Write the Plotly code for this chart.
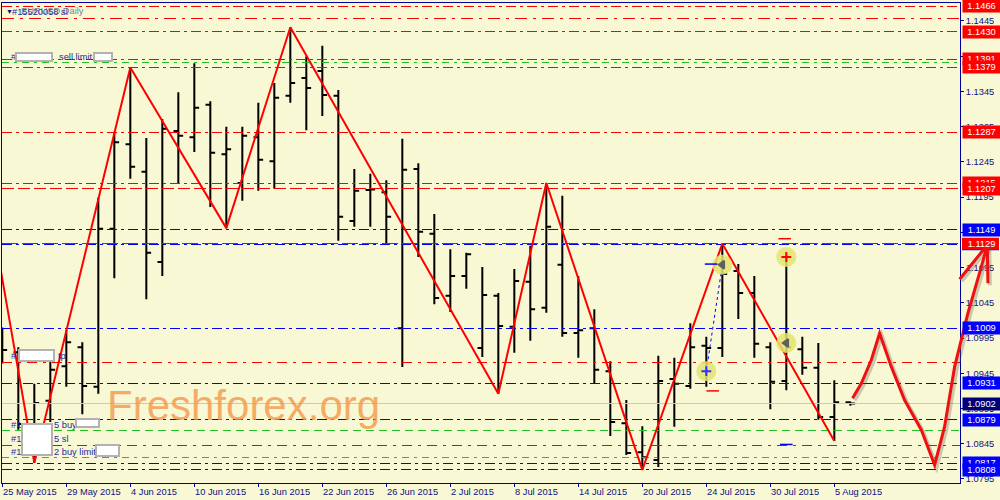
import plotly.graph_objects as go
import pandas as pd

# ---------------- data ----------------
dates = pd.bdate_range("2015-05-25", periods=54)
bar_idx = list(range(54))
opens = [1.1005, 1.0975, 1.0872, 1.0906, 1.0955, 1.0982, 1.0926, 1.1150, 1.1270, 1.1231,
         1.1103, 1.1289, 1.1280, 1.1326, 1.1256, 1.1215, 1.1280, 1.1246, 1.1339, 1.1364,
         1.1374, 1.1339, 1.1161, 1.1205, 1.1202, 1.1009, 1.1235, 1.1143, 1.1055, 1.1083,
         1.0981, 1.1055, 1.1011, 1.1075, 1.1038, 1.1099, 1.1002, 1.1009, 1.0948, 1.0874,
         1.0833, 1.0822, 1.0937, 1.0927, 1.0984, 1.0981, 1.1090, 1.1059, 1.0982, 1.0934,
         1.0979, 1.0953, 1.0883, 1.0904]
highs = [1.1010, 1.0982, 1.0930, 1.0961, 1.1006, 1.0989, 1.1194, 1.1286, 1.1379, 1.1279,
         1.1306, 1.1344, 1.1385, 1.1331, 1.1295, 1.1295, 1.1329, 1.1357, 1.1436, 1.1395,
         1.1410, 1.1347, 1.1235, 1.1228, 1.1219, 1.1278, 1.1243, 1.1171, 1.1121, 1.1116,
         1.1096, 1.1059, 1.1093, 1.1126, 1.1215, 1.1197, 1.1083, 1.1036, 1.0962, 1.0907,
         1.0870, 1.0970, 1.0967, 1.1016, 1.0997, 1.1129, 1.1100, 1.1083, 1.0989, 1.1114,
         1.0997, 1.0988, 1.0935, 1.0905]
lows = [1.0959, 1.0865, 1.0818, 1.0876, 1.0926, 1.0887, 1.0916, 1.1080, 1.1221, 1.1050,
        1.1083, 1.1214, 1.1259, 1.1181, 1.1151, 1.1190, 1.1204, 1.1207, 1.1329, 1.1290,
        1.1310, 1.1133, 1.1153, 1.1153, 1.1129, 1.0954, 1.1110, 1.1043, 1.1032, 1.1065,
        1.0968, 1.0916, 1.0974, 1.0991, 1.1031, 1.0997, 1.0967, 1.0930, 1.0856, 1.0829,
        1.0808, 1.0812, 1.0869, 1.0923, 1.0926, 1.0968, 1.1022, 1.0967, 1.0894, 1.0921,
        1.0943, 1.0879, 1.0849, 1.0899]
closes = [1.0978, 1.0873, 1.0903, 1.0950, 1.0989, 1.0927, 1.1150, 1.1273, 1.1238, 1.1116,
          1.1292, 1.1282, 1.1322, 1.1258, 1.1263, 1.1282, 1.1248, 1.1336, 1.1357, 1.1350,
          1.1340, 1.1167, 1.1204, 1.1206, 1.1167, 1.1234, 1.1146, 1.1052, 1.1083, 1.1114,
          1.1056, 1.1012, 1.1076, 1.1036, 1.1153, 1.1002, 1.1006, 1.0950, 1.0876, 1.0832,
          1.0826, 1.0934, 1.0930, 1.0982, 1.0981, 1.1086, 1.1059, 1.0987, 1.0933, 1.0982,
          1.0953, 1.0883, 1.0904, 1.0902]

# zigzag vertices (bar index, price); first vertex lies just left of the chart
zz_idx = [-1, 2, 8, 14, 18, 31, 34, 40, 45, 52]
zz_price = [1.1209, 1.0818, 1.1379, 1.1151, 1.1436, 1.0916, 1.1215, 1.0808, 1.1129, 1.0849]

# x tick labels every 4 bars
tick_idx = [0, 4, 8, 12, 16, 20, 24, 28, 32, 36, 40, 44, 48, 52]
tick_text = ["25 May 2015", "29 May 2015", "4 Jun 2015", "10 Jun 2015", "16 Jun 2015",
             "22 Jun 2015", "26 Jun 2015", "2 Jul 2015", "8 Jul 2015", "14 Jul 2015",
             "20 Jul 2015", "24 Jul 2015", "30 Jul 2015", "5 Aug 2015"]

# horizontal order / level lines
level_prices = [1.1466, 1.1449, 1.1430, 1.1391, 1.13855, 1.1379, 1.1287, 1.1215, 1.1207,
                1.1149, 1.1128, 1.1129, 1.1009, 1.0961, 1.0931, 1.0879, 1.0864, 1.0843,
                1.0826, 1.0817, 1.0808]
level_kind = ["r", "r", "r", "r", "g", "r", "r", "r", "r",
              "b", "b", "r", "b", "r", "b", "b", "g", "r",
              "g", "b", "b"]
bid_price = 1.0902

# price labels on the right axis (drawn in this order)
label_prices = [1.1466, 1.1430, 1.1391, 1.1379, 1.1287, 1.1215, 1.1207, 1.1149,
                1.1009, 1.0931, 1.0902, 1.0879, 1.0817, 1.0808]
label_kind = ["r", "r", "r", "r", "r", "r", "r", "b",
              "b", "b", "n", "b", "b", "b"]
# labels crossed by the hand drawing: blue 1.1128 sits under red 1.1129
under_prices = [1.1128, 1.1129]
under_kind = ["b", "r"]

# trade markers
trade_idx = [44, 45, 49, 49]
trade_price = [1.0948, 1.1099, 1.1110, 1.0988]
mark_idx = [44.3, 48.9, 44.4, 49.0]
mark_price = [1.1100, 1.1136, 1.0920, 1.0844]

# hand-drawn forecast arrow (future bar index, price)
sketch_idx = [53.14, 53.69, 54.31, 54.83, 55.56, 56.39, 57.44, 58.27, 58.89, 59.52,
              60.35, 61.19, 61.56]
sketch_price = [1.09095, 1.09308, 1.09639, 1.10018, 1.09544, 1.09071, 1.08645, 1.08149,
                1.08692, 1.09544, 1.10302, 1.10963, 1.11271]
barb_idx = [59.83, 61.56, 61.60]
barb_price = [1.10784, 1.11271, 1.10727]

# ---------------- styles ----------------
BG = "#F8F8D4"
AXIS = "#00009C"
NAVY = "#101080"
RED = "#FF0000"
BLUE = "#0000FF"
GREEN = "#22C022"
FONT = "Liberation Sans, Arial, sans-serif"
FS = 9.3
col = {"r": RED, "b": BLUE, "g": GREEN, "n": "#000078"}
DD = "10px,4px,3px,4px"
level_dash = [DD, "12px,6px,3px,6px", DD, DD, "7px,5px,3px,5px", DD, DD, DD, "12px,4px",
              DD, DD, "16px,4px", DD, "10px,6px,3px,6px", DD, DD, "8px,5px", "10px,6px,3px,6px",
              "7px,5px,3px,5px", DD, DD]

W, H = 1000, 500
ML, MR, MT, MB = 2, 40, 3, 17
PW, PH = W - ML - MR, H - MT - MB
X0 = -0.02
X1 = X0 + PW / 16.0
Y1 = 1.14705
Y0 = 1.07893
PRICE_PER_PX = (Y1 - Y0) / PH


def px(x):
    return (x - ML) / PW


def py(y):
    return (MT + PH - y) / PH


def xpaper(i):
    return (i - X0) / (X1 - X0)


def crisp(p):
    # place a 1px line on a pixel centre so it renders sharp like the terminal
    pix = (Y1 - p) / PRICE_PER_PX
    pix = round(pix - 0.5) + 0.5
    return Y1 - pix * PRICE_PER_PX


fig = go.Figure()

# level lines as traces
for p, k, d in zip(level_prices, level_kind, level_dash):
    yy = crisp(p)
    fig.add_trace(go.Scatter(x=[X0, X1], y=[yy, yy], mode="lines",
                             line=dict(color=col[k], width=1, dash=d), hoverinfo="skip"))
yb = crisp(bid_price)
fig.add_trace(go.Scatter(x=[X0, X1], y=[yb, yb], mode="lines",
                         line=dict(color="#C8C8C8", width=1), hoverinfo="skip"))

fig.add_trace(go.Ohlc(
    x=bar_idx, open=opens, high=highs, low=lows, close=closes,
    increasing=dict(line=dict(color="black", width=2)),
    decreasing=dict(line=dict(color="black", width=2)),
    tickwidth=0.3, hoverinfo="skip"))

fig.add_trace(go.Scatter(x=zz_idx, y=zz_price, mode="lines",
                         line=dict(color=RED, width=2), hoverinfo="skip"))

# trade link line and markers
fig.add_trace(go.Scatter(x=trade_idx[:2], y=trade_price[:2], mode="lines",
                         line=dict(color=BLUE, width=1, dash="dot"), hoverinfo="skip"))
fig.add_trace(go.Scatter(x=trade_idx, y=trade_price, mode="markers",
                         marker=dict(size=20, color="rgba(228,228,110,0.85)",
                                     line=dict(width=0)), hoverinfo="skip"))
fig.add_trace(go.Scatter(x=trade_idx, y=trade_price, mode="markers",
                         marker=dict(size=7, symbol=["cross-thin", "triangle-left", "cross-thin", "triangle-left"],
                                     color=["#3030FF", "#606060", RED, "#606060"],
                                     line=dict(width=2, color=["#3030FF", "#606060", RED, "#606060"])),
                         hoverinfo="skip"))
fig.add_trace(go.Scatter(x=mark_idx, y=mark_price, mode="markers",
                         marker=dict(size=9, symbol="line-ew",
                                     line=dict(width=1.5, color=[BLUE, RED, RED, BLUE])),
                         hoverinfo="skip"))

shapes = []
half = 6.0 * PRICE_PER_PX
for p, k in zip(under_prices, under_kind):
    shapes.append(dict(type="rect", xref="paper", yref="y", x0=1 + 2.0 / PW, x1=1 + 39.0 / PW,
                       y0=p - half, y1=p + half, fillcolor=col[k], line=dict(width=0), layer="above"))


def path_of(ix, pr, dx=0.0, dy=0.0):
    pts = ["%s%.6f,%.6f" % ("M" if j == 0 else "L", xpaper(a) + dx, b + dy)
           for j, (a, b) in enumerate(zip(ix, pr))]
    return " ".join(pts)


sdx, sdy = 2.0 / PW, -2.0 * PRICE_PER_PX
for dx, dy, c, w in [(sdx, sdy, "rgba(90,90,90,0.30)", 4), (0, 0, "#F01010", 3)]:
    shapes.append(dict(type="path", xref="paper", yref="y", path=path_of(sketch_idx, sketch_price, dx, dy),
                       line=dict(color=c, width=w), layer="above"))
    shapes.append(dict(type="path", xref="paper", yref="y", path=path_of(barb_idx, barb_price, dx, dy),
                       line=dict(color=c, width=w), layer="above"))

ann = []
# x tick labels (left aligned at tick, MT4 style)
for i, t in zip(tick_idx, tick_text):
    ann.append(dict(x=i, xref="x", y=0, yref="paper", yanchor="top", xanchor="left",
                    yshift=-2, xshift=-1, text=t, showarrow=False,
                    font=dict(family=FONT, size=FS, color=NAVY)))

# watermark
ann.append(dict(x=px(243), y=py(405), xref="paper", yref="paper", text="Freshforex.org",
                xanchor="center", yanchor="middle",
                showarrow=False, font=dict(family=FONT, size=42, color="rgba(242,150,72,0.78)")))

# order texts on the left
TXT = "#1C2C9C"
texts = [("#15520058 sl", 10, 12, TXT), ("EURUSD,Daily", 19, 11, "rgba(80,90,160,0.8)"),
         ("#", 9, 57, TXT), ("sell limit", 57, 57, TXT), ("#", 9, 356, TXT), ("tp", 56, 356, TXT),
         ("#1", 9, 425, TXT), ("5 buy", 52, 425, TXT), ("#1", 9, 439, TXT), ("5 sl", 52, 439, TXT),
         ("#1", 9, 452, TXT), ("2 buy limit", 52, 452, TXT)]
for t, x, y, c in texts:
    ann.append(dict(x=px(x), y=py(y), xref="paper", yref="paper", xanchor="left", yanchor="middle",
                    text=t, showarrow=False, font=dict(family=FONT, size=FS, color=c)))
ann.append(dict(x=px(4), y=py(11), xref="paper", yref="paper", xanchor="left", yanchor="middle",
                text="▼", showarrow=False, font=dict(family=FONT, size=7, color=NAVY)))

# white masking boxes
boxes = [(34, 57, 34, 6), (103, 57, 16, 6), (36.5, 355.5, 33, 9), (37, 439.5, 28, 29),
         (87.5, 423, 21, 6), (107.5, 450.5, 21, 9)]
for x, y, w, h in boxes:
    ann.append(dict(x=px(x), y=py(y), xref="paper", yref="paper", xanchor="center", yanchor="middle",
                    text=" ", showarrow=False, width=w, height=h, bgcolor="white",
                    bordercolor="#B2B2B2", borderwidth=2, borderpad=0,
                    font=dict(size=4)))

# right-hand price labels (boxes as annotations so later ones cover earlier ones)
for p, k in zip(label_prices, label_kind):
    ann.append(dict(x=1, xref="paper", y=p, yref="y", xanchor="left", yanchor="middle", xshift=2,
                    text="%.4f" % p, showarrow=False, width=35, height=10, bgcolor=col[k],
                    borderpad=1, align="center",
                    font=dict(family=FONT, size=FS, color="white")))
ann.append(dict(x=1, xref="paper", y=under_prices[-1], yref="y", xanchor="left", yanchor="middle",
                xshift=2, text="%.4f" % under_prices[-1], showarrow=False, width=35, height=10,
                borderpad=1, align="center", font=dict(family=FONT, size=FS, color="white")))

fig.update_layout(
    width=W, height=H, margin=dict(l=ML, r=MR, t=MT, b=MB),
    paper_bgcolor=BG, plot_bgcolor=BG, showlegend=False,
    font=dict(family=FONT, size=FS, color=NAVY),
    shapes=shapes, annotations=ann, hovermode=False)
fig.update_xaxes(range=[X0, X1], showgrid=False, zeroline=False, showline=True, linecolor=AXIS,
                 linewidth=1, mirror=True, ticks="outside", ticklen=3, tickcolor=AXIS,
                 tickvals=tick_idx, showticklabels=False, rangeslider_visible=False, fixedrange=True)
fig.update_yaxes(range=[Y0, Y1], side="right", showgrid=False, zeroline=False, showline=True,
                 linecolor=AXIS, linewidth=1, mirror=True, ticks="outside", ticklen=3,
                 tickcolor=AXIS, tick0=1.0795, dtick=0.005, tickformat=".4f",
                 tickfont=dict(family=FONT, size=FS, color=NAVY), fixedrange=True)

fig.write_html("out.html", config={"displayModeBar": False},
               post_script="document.body.style.margin='0';document.body.style.padding='0';"
                           "document.body.style.background='" + BG + "';")
